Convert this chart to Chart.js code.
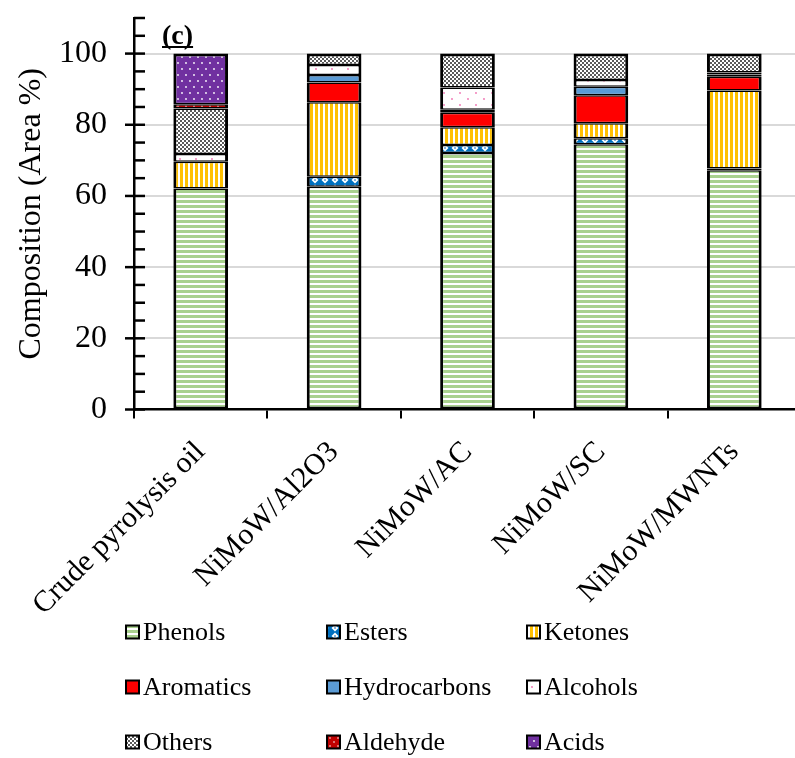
<!DOCTYPE html>
<html><head><meta charset="utf-8">
<script src="https://cdn.jsdelivr.net/npm/chart.js@4.4.1/dist/chart.umd.min.js"></script>
<style>
html,body{margin:0;padding:0;overflow:hidden;background:#fff;}
#wrap{width:801px;height:758px;position:relative;}
</style></head><body>
<div id="wrap"><canvas id="c" width="801" height="758"></canvas></div>
<script>
const categories = ['Crude pyrolysis oil','NiMoW/Al2O3','NiMoW/AC','NiMoW/SC','NiMoW/MWNTs'];
const seriesNames = ['Phenols','Esters','Ketones','Aromatics','Hydrocarbons','Alcohols','Others','Aldehyde','Acids'];
const phenols      = [62.1, 62.6, 72.1, 74.5, 67.2];
const esters       = [0,    2.8,  2.2,  1.7,  0.5];
const ketones      = [7.5,  20.9, 5.0,  4.2,  21.9];
const aromatics    = [0,    5.6,  4.1,  7.9,  3.9];
const hydrocarbons = [0,    2.1,  0.8,  2.4,  0.6];
const alcohols     = [2.2,  2.8,  6.3,  1.9,  0.6];
const others       = [12.8, 3.2,  9.5,  7.4,  5.3];
const aldehyde     = [1.2,  0,    0,    0,    0];
const acids        = [14.2, 0,    0,    0,    0];
const yTickLabels  = [0, 20, 40, 60, 80, 100];

const FONT = "'Liberation Serif', 'Times New Roman', serif";
const canvas = document.getElementById('c');
const ctx = canvas.getContext('2d');
function mk(w, h, draw) { const c = document.createElement('canvas'); c.width = w; c.height = h; draw(c.getContext('2d'), w, h); return ctx.createPattern(c, 'repeat'); }
function dot(g, x, y, r, col) { g.fillStyle = col; g.beginPath(); g.arc(x, y, r, 0, Math.PI * 2); g.fill(); }

const fills = [
  mk(4, 5, (g) => { g.fillStyle = '#fff'; g.fillRect(0, 0, 4, 5); g.fillStyle = '#a9d18e'; g.fillRect(0, 0, 4, 3); }),
  mk(10, 8, (g) => { g.fillStyle = '#0070c0'; g.fillRect(0, 0, 10, 8); g.fillStyle = '#fff'; g.beginPath(); g.moveTo(5, 0.5); g.lineTo(8.5, 4); g.lineTo(5, 7.5); g.lineTo(1.5, 4); g.closePath(); g.fill(); dot(g, 5, 4, 1, '#5b9bd5'); }),
  mk(5, 4, (g) => { g.fillStyle = '#fff'; g.fillRect(0, 0, 5, 4); g.fillStyle = '#ffc000'; g.fillRect(0, 0, 3, 4); }),
  '#ff0000',
  '#5b9bd5',
  mk(16, 12, (g) => { g.fillStyle = '#fff'; g.fillRect(0, 0, 16, 12); dot(g, 4, 3, 0.9, '#f070b0'); dot(g, 12, 9, 0.9, '#f070b0'); }),
  mk(4, 4, (g) => { g.fillStyle = '#fff'; g.fillRect(0, 0, 4, 4); g.fillStyle = '#5a5a5a'; g.fillRect(0, 0, 2, 2); g.fillRect(2, 2, 2, 2); }),
  mk(8, 8, (g) => { g.fillStyle = '#c00000'; g.fillRect(0, 0, 8, 8); dot(g, 2, 2, 0.8, '#fff'); dot(g, 6, 6, 0.8, '#fff'); }),
  mk(8, 12, (g) => { g.fillStyle = '#7030a0'; g.fillRect(0, 0, 8, 12); dot(g, 2, 3, 0.9, '#fff'); dot(g, 6, 9, 0.9, '#fff'); })
];
const values = [phenols, esters, ketones, aromatics, hydrocarbons, alcohols, others, aldehyde, acids];

function isTopSegment(dsIndex, idx) {
  for (let k = dsIndex + 1; k < values.length; k++) if (values[k][idx]) return false;
  return true;
}

const datasets = seriesNames.map((name, i) => ({
  label: name, data: values[i].map(v => v === 0 ? null : v), backgroundColor: fills[i], borderColor: '#000',
  borderWidth: (c) => ({ left: 3, right: 3, bottom: i === 0 ? 2 : 1.5, top: isTopSegment(i, c.dataIndex) ? 3 : 1.5 }),
  borderSkipped: false, categoryPercentage: 1, barPercentage: 0.41
}));

const extras = {
  id: 'extras',
  afterDraw(chart) {
    const c = chart.ctx, y = chart.scales.y, area = chart.chartArea;
    c.save();
    c.strokeStyle = '#000'; c.lineWidth = 2.5;
    y.ticks.forEach(t => {
      const py = y.getPixelForValue(t.value);
      const major = yTickLabels.includes(t.value);
      c.beginPath(); c.moveTo(area.left - (major ? 9 : 0), py); c.lineTo(area.left + 11, py); c.stroke();
    });
    // panel label
    c.fillStyle = '#000'; c.font = 'bold 28px ' + FONT; c.textBaseline = 'alphabetic'; c.textAlign = 'left';
    c.fillText('(c)', 162, 44);
    const w = c.measureText('(c)').width;
    c.lineWidth = 2; c.beginPath(); c.moveTo(162, 47); c.lineTo(162 + w, 47); c.stroke();
    // legend
    const colX = [126, 327, 527], rowY = [632, 687, 742];
    c.font = '26px ' + FONT; c.textBaseline = 'middle';
    chart.data.datasets.forEach((ds, i) => {
      const bx = colX[i % 3], cy = rowY[Math.floor(i / 3)];
      c.fillStyle = ds.backgroundColor; c.fillRect(bx, cy - 6.5, 13, 13);
      c.lineWidth = 2; c.strokeStyle = '#000'; c.strokeRect(bx, cy - 6.5, 13, 13);
      c.fillStyle = '#000'; c.fillText(ds.label, bx + 17, cy + 1);
    });
    c.restore();
  }
};

new Chart(canvas, {
  type: 'bar',
  data: { labels: categories, datasets },
  options: {
    responsive: false, animation: false, devicePixelRatio: 1,
    layout: { padding: { top: 0, left: 0, right: 0, bottom: 140 } },
    plugins: { legend: { display: false }, tooltip: { enabled: false } },
    scales: {
      x: {
        stacked: true, offset: true,
        grid: { offset: true, drawOnChartArea: false, color: '#000', lineWidth: 2, tickLength: 9 },
        border: { color: '#000', width: 2.5 },
        ticks: { font: { family: FONT, size: 30 }, color: '#000', maxRotation: 45, minRotation: 45, padding: 16, autoSkip: false },
        afterFit(s) { s.height = 208.5; }
      },
      y: {
        stacked: true, min: 0, max: 110,
        ticks: { stepSize: 5, autoSkip: false, callback: (v) => yTickLabels.includes(v) ? String(v) : '', font: { family: FONT, size: 32, lineHeight: 1.0 }, color: '#000', padding: 2 },
        grid: { color: (c) => (c.tick && yTickLabels.includes(c.tick.value) && c.tick.value > 0) ? '#d9d9d9' : 'rgba(0,0,0,0)', lineWidth: 2, drawTicks: true, tickLength: 25, tickColor: 'rgba(0,0,0,0)' },
        border: { color: '#000', width: 2.5 },
        title: { display: true, text: 'Composition (Area %)', font: { family: FONT, size: 32 }, color: '#000', padding: { top: 12, bottom: 0 } },
        afterFit(s) { s.width = 134; }
      }
    }
  },
  plugins: [extras]
});
</script>
</body></html>
